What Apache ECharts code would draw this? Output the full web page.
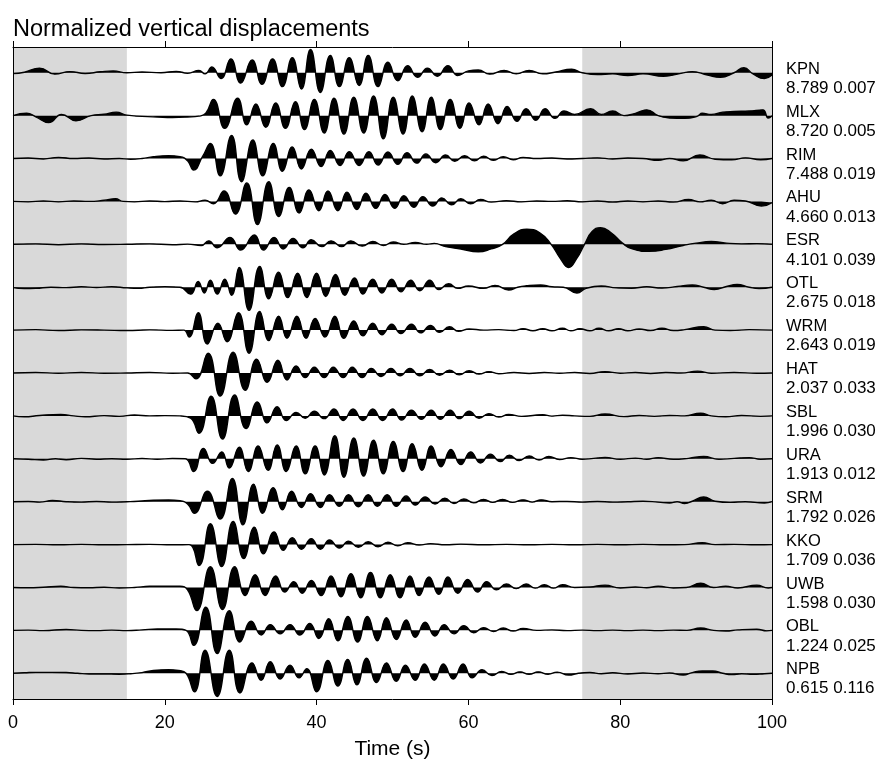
<!DOCTYPE html>
<html><head><meta charset="utf-8">
<script src="https://cdn.jsdelivr.net/npm/echarts@6/dist/echarts.min.js"></script>
<style>html,body{margin:0;padding:0;background:#fff}#c{width:881px;height:765px}</style>
</head><body><div id="c"></div>
<script>
const stations = ['KPN','MLX','RIM','AHU','ESR','OTL','WRM','HAT','SBL','URA','SRM','KKO','UWB','OBL','NPB'];
const distances = ['8.789','8.720','7.488','4.660','4.101','2.675','2.643','2.037','1.996','1.913','1.792','1.709','1.598','1.224','0.615'];
const maxAmps = ['0.007','0.005','0.019','0.013','0.039','0.018','0.019','0.033','0.030','0.012','0.026','0.036','0.030','0.025','0.116'];
const xTicks = [0,20,40,60,80,100];
const shadedWindows = [[0,15],[75,100]];

const KPN = [[0,-0.04],[1.5,0.02],[3.5,0.2],[5.5,-0.06],[7.5,0.05],[9.5,-0.03],[11.5,0.04],[13.2,0.08],[15,0.0],[17,0.03],[19.5,0.0],[21.5,0.06],[23,-0.02],[24.5,0.1],[25.3,-0.05],[26.2,0.25],[27.4,-0.25],[28.7,0.6],[30.0,-0.45],[31.5,0.55],[32.8,-0.5],[34.2,0.6],[35.5,-0.6],[36.8,0.65],[38.0,-0.7],[39.2,1.0],[40.5,-0.85],[41.8,0.75],[43.0,-0.6],[44.3,0.65],[45.6,-0.55],[46.8,0.75],[48.1,-0.6],[49.4,0.45],[50.7,-0.35],[52.0,0.3],[53.3,-0.2],[54.6,0.2],[55.9,-0.15],[57.3,0.3],[58.6,-0.12],[60.0,0.08],[61.3,0.12],[62.8,-0.06],[64.7,0.1],[66.3,-0.05],[68.0,0.1],[69.8,-0.05],[71.5,0.03],[73.6,0.15],[75,0.0],[77,-0.08],[79,-0.05],[81,-0.12],[83,-0.05],[85.7,-0.15],[88,-0.03],[89.5,0.05],[91.5,-0.1],[93.2,-0.2],[95,0.0],[96.3,0.22],[97.5,-0.05],[99,-0.25],[100,-0.1]];
const MLX = [[0,0],[1.8,0.1],[3,-0.05],[4.7,-0.3],[6.4,0.05],[8.3,-0.22],[10.3,0.0],[12,0.06],[13.6,0.15],[15,0.02],[17,-0.03],[19,-0.06],[21,-0.08],[23,-0.06],[24.5,-0.02],[25.4,0.1],[26.4,0.7],[27.9,-0.55],[29.6,0.75],[30.8,-0.4],[32.0,0.5],[33.3,-0.5],[34.6,0.55],[35.9,-0.55],[37.2,0.6],[38.4,-0.6],[39.7,0.7],[41.0,-0.75],[42.3,0.75],[43.6,-0.8],[44.9,0.8],[46.2,-0.75],[47.5,0.85],[48.8,-1.0],[50.1,0.8],[51.4,-0.8],[52.6,0.85],[53.9,-0.7],[55.1,0.8],[56.3,-0.6],[57.6,0.7],[58.9,-0.55],[60.1,0.55],[61.4,-0.4],[62.6,0.5],[63.9,-0.35],[65.1,0.4],[66.4,-0.25],[67.6,0.3],[68.9,-0.2],[70.1,0.3],[71.4,-0.12],[72.6,0.2],[74,0.05],[76.1,0.3],[77.5,0.05],[79,0.2],[80.5,0.0],[82,0.1],[83.5,0.25],[85,0.0],[86.5,-0.1],[88.5,-0.12],[90.2,-0.02],[90.8,0.1],[92,0.05],[93.5,0.15],[95,0.18],[97,0.2],[98.8,0.25],[99.5,-0.1],[100,0]];
const RIM = [[0,0],[2,0.02],[4,-0.02],[6,0.05],[8,0.0],[10,0.02],[12,-0.02],[14,0.0],[15.5,-0.03],[17,0.0],[18.5,0.08],[20.5,0.12],[22,0.08],[23.0,-0.1],[23.8,-0.5],[25.0,0.1],[26.0,0.65],[27.3,-0.75],[28.8,1.0],[30.1,-1.0],[31.6,0.8],[32.9,-0.75],[34.3,0.65],[35.5,-0.55],[36.8,0.5],[38.0,-0.45],[39.3,0.4],[40.6,-0.35],[41.8,0.35],[43.1,-0.3],[44.3,0.3],[45.6,-0.3],[46.9,0.3],[48.1,-0.28],[49.4,0.28],[50.7,-0.25],[51.9,0.25],[53.2,-0.2],[54.4,0.2],[55.7,-0.18],[57.0,0.15],[58.2,-0.12],[59.5,0.12],[60.8,-0.1],[62.0,0.1],[63.3,-0.08],[64.6,0.08],[65.9,-0.05],[67.2,0.05],[69,0.0],[71,0.02],[73,-0.02],[75,0.0],[77,0.03],[79,-0.02],[81,0.02],[83,0.0],[85,-0.08],[86.5,0.0],[88.3,-0.1],[90.5,0.15],[92.5,-0.03],[94.7,-0.06],[96.5,0.03],[98.5,-0.05],[100,0]];
const AHU = [[0,0],[2,-0.02],[4,0.02],[6,-0.02],[8,0.02],[10,0.0],[12,0.05],[13.5,0.12],[14.5,0.0],[16,-0.02],[18,0.02],[20,-0.01],[22,0.02],[24,-0.02],[25.3,0.05],[26.4,-0.1],[27.8,0.45],[29.3,-0.55],[30.8,0.8],[32.2,-1.0],[33.7,0.85],[35.0,-0.65],[36.4,0.6],[37.7,-0.5],[39.0,0.5],[40.3,-0.4],[41.5,0.45],[42.8,-0.4],[44.0,0.4],[45.3,-0.35],[46.5,0.35],[47.8,-0.3],[49.0,0.3],[50.3,-0.3],[51.5,0.25],[52.8,-0.25],[54.0,0.2],[55.3,-0.2],[56.5,0.15],[57.8,-0.15],[59.0,0.12],[60.3,-0.1],[61.6,0.08],[63,-0.03],[65,0.03],[67,-0.02],[69,0.02],[71,0.0],[73,0.03],[75,-0.02],[77,0.02],[79,-0.03],[81,0.02],[83,-0.02],[85,0.02],[87,-0.03],[89,0.08],[90.5,-0.02],[92,0.05],[93.5,-0.1],[95,0.05],[96.5,0.02],[98.6,-0.2],[100,-0.05]];
const ESR = [[0,0],[3,0.02],[6,-0.02],[9,0.02],[12,-0.01],[15,0.0],[18,0.02],[21,-0.02],[23,0.01],[24.8,-0.05],[25.8,0.15],[26.9,-0.15],[28.6,0.3],[30.0,-0.25],[31.8,0.4],[33.0,-0.25],[34.4,0.3],[35.6,-0.2],[36.9,0.25],[38.2,-0.15],[39.3,0.2],[40.7,-0.1],[41.9,0.15],[43.3,-0.1],[44.5,0.15],[46.0,-0.08],[47.4,0.12],[48.8,-0.05],[50.1,0.1],[51.5,0.0],[53.0,0.08],[54.5,0.0],[55.5,0.04],[57,-0.1],[59,-0.2],[61.3,-0.32],[63,-0.2],[64.5,0.0],[66,0.45],[67.7,0.65],[69.4,0.5],[70.9,0.0],[72.1,-0.6],[73.2,-1.0],[74.3,-0.6],[75.3,0.0],[76.3,0.55],[77.4,0.72],[78.8,0.5],[80.3,0.05],[81.6,-0.2],[83.8,-0.3],[86,-0.22],[88.3,-0.05],[90,0.05],[92,0.12],[94,0.05],[96,0.02],[98,0.03],[100,0]];
const OTL = [[0,-0.02],[1.5,-0.06],[3,-0.05],[5,0.0],[7,-0.02],[9,0.02],[11,-0.01],[13,0.02],[15,-0.03],[16.5,-0.05],[18,0.0],[20,0.02],[22,0.0],[23.4,-0.3],[24.4,0.25],[25.2,-0.25],[26.0,0.3],[26.9,-0.3],[27.9,0.35],[28.8,-0.35],[29.8,0.85],[31.1,-1.0],[32.5,0.9],[33.7,-0.5],[35.0,0.65],[36.2,-0.45],[37.5,0.6],[38.7,-0.45],[40.0,0.6],[41.2,-0.4],[42.5,0.55],[43.7,-0.35],[45.0,0.4],[46.1,-0.3],[47.4,0.35],[48.6,-0.25],[49.9,0.35],[51.1,-0.2],[52.4,0.3],[53.6,-0.15],[54.9,0.3],[56.1,-0.1],[57.4,0.15],[58.6,-0.05],[60.0,0.05],[62,-0.05],[63.5,0.08],[65.3,-0.12],[66.5,0.0],[67.6,0.06],[69.5,0.1],[71,0.02],[72.5,0.0],[74.3,-0.25],[75.5,-0.05],[77.5,0.05],[79.5,-0.03],[81.5,-0.05],[83.5,0.02],[85.5,-0.04],[87.5,0.03],[89.5,0.1],[91,0.0],[92.4,-0.1],[94,0.03],[95.4,0.12],[97,0.0],[98.3,-0.06],[100,0]];
const WRM = [[0,0],[3,0.02],[6,-0.02],[9,0.01],[12,0.0],[15,-0.02],[18,0.01],[21,-0.01],[22.5,0.0],[23.2,-0.3],[24.4,0.75],[25.6,-0.6],[27.0,0.3],[28.2,-0.5],[29.7,0.75],[31.1,-1.0],[32.5,0.8],[33.7,-0.45],[35.0,0.6],[36.1,-0.35],[37.4,0.6],[38.6,-0.35],[39.8,0.5],[41.1,-0.3],[42.4,0.6],[43.6,-0.35],[44.9,0.4],[46.1,-0.25],[47.4,0.3],[48.6,-0.2],[49.9,0.25],[51.1,-0.15],[52.5,0.25],[53.7,-0.12],[55.0,0.2],[56.2,-0.1],[57.5,0.15],[58.7,-0.05],[60.1,0.05],[62,0.0],[64,0.02],[66,-0.02],[67.2,0.06],[68.5,-0.03],[69.8,0.06],[71,-0.03],[72.4,0.08],[73.5,-0.03],[74.7,0.06],[76,-0.03],[77.2,0.08],[78.5,-0.03],[79.8,0.06],[81,-0.03],[82.5,0.05],[84,-0.02],[85.5,0.08],[87,-0.02],[88.5,0.02],[91,0.15],[92.5,0.0],[94.5,-0.02],[97,0.02],[100,0]];
const HAT = [[0,0],[3,0.02],[6,-0.01],[9,0.02],[12,-0.01],[15,0.0],[18,0.02],[21,-0.01],[23,0.0],[24.1,-0.25],[25.7,0.85],[27.3,-1.0],[29.0,0.9],[30.6,-0.75],[32.1,0.6],[33.5,-0.4],[34.9,0.55],[36.1,-0.3],[37.3,0.3],[38.5,-0.2],[39.7,0.25],[41.0,-0.2],[42.2,0.25],[43.5,-0.2],[44.7,0.25],[46.0,-0.2],[47.2,0.2],[48.5,-0.15],[49.8,0.2],[51.0,-0.12],[52.3,0.2],[53.6,-0.12],[54.9,0.15],[56.2,-0.1],[57.5,0.12],[58.8,-0.08],[60.1,0.1],[61.4,-0.05],[62.7,0.06],[64,-0.03],[66,0.02],[68,-0.02],[70,0.02],[72,-0.01],[74,0.02],[76,-0.02],[78,0.06],[80,-0.01],[82,0.02],[84,-0.02],[86,0.02],[88,0.0],[90.2,0.08],[92,-0.01],[95,0.02],[98,-0.01],[100,0]];
const SBL = [[0,0],[1.5,-0.04],[3.5,0.02],[6.3,0.06],[8,0.0],[9.5,-0.04],[12,0.01],[14,-0.02],[16,0.04],[18,0.0],[20,0.01],[22,0.0],[23.4,-0.1],[24.5,-0.75],[26.1,0.85],[27.6,-1.0],[29.2,0.9],[30.7,-0.55],[32.2,0.6],[33.5,-0.3],[34.8,0.4],[36.0,-0.2],[37.3,0.15],[38.5,-0.1],[39.7,0.2],[41.0,-0.12],[42.3,0.3],[43.5,-0.2],[44.8,0.3],[46.1,-0.2],[47.4,0.3],[48.7,-0.2],[50.0,0.3],[51.2,-0.18],[52.5,0.25],[53.8,-0.15],[55.1,0.25],[56.3,-0.15],[57.6,0.25],[58.8,-0.12],[60.1,0.2],[61.4,-0.1],[62.7,0.1],[64,-0.05],[65.3,0.06],[67,-0.02],[68.5,0.02],[69.8,0.05],[71,-0.01],[72.4,0.03],[74,0.0],[76,-0.02],[78,0.08],[80.5,-0.03],[82.5,0.02],[84.5,-0.02],[86.5,0.02],[88.5,0.0],[90.6,0.12],[92,0.0],[93.9,-0.04],[96,0.02],[98.5,-0.02],[100,0]];
const URA = [[0,0],[2,-0.02],[4,-0.05],[5.6,0.0],[7,-0.04],[9,0.02],[11,-0.02],[13,0.0],[15,-0.02],[17,0.01],[19,-0.02],[21,0.01],[22.7,0.0],[23.8,-0.55],[25.1,0.45],[26.3,-0.2],[27.5,0.3],[28.5,-0.4],[29.8,0.5],[31.0,-0.55],[32.3,0.55],[33.6,-0.5],[34.8,0.6],[36.0,-0.55],[37.3,0.55],[38.5,-0.65],[39.8,0.55],[41.0,-0.7],[42.4,1.0],[43.6,-0.8],[44.9,0.9],[46.2,-0.75],[47.5,0.8],[48.8,-0.65],[50.1,0.75],[51.4,-0.55],[52.6,0.65],[53.9,-0.5],[55.1,0.55],[56.4,-0.35],[57.7,0.4],[59.0,-0.25],[60.3,0.3],[61.6,-0.18],[62.9,0.2],[64.2,-0.12],[65.4,0.15],[66.7,-0.08],[68.0,0.12],[69.3,-0.05],[70.6,0.1],[72,-0.03],[73.5,0.05],[75,-0.02],[76.5,0.02],[78,0.06],[80,-0.02],[82,0.03],[83.5,-0.02],[85,0.05],[87,-0.02],[89,0.02],[91,0.1],[93,-0.02],[95,0.02],[97,0.05],[98.5,-0.02],[100,0]];
const SRM = [[0,0],[2,0.01],[3.5,-0.02],[5.2,0.05],[7,0.0],[9,-0.02],[11,0.01],[13,-0.02],[15,0.0],[16.5,0.02],[18.5,0.06],[20.5,0.07],[22,0.04],[23.0,-0.1],[23.9,-0.5],[25.6,0.45],[27.3,-0.75],[28.9,1.0],[30.3,-1.0],[31.7,0.75],[32.9,-0.5],[34.3,0.6],[35.5,-0.35],[36.7,0.45],[38.0,-0.25],[39.2,0.35],[40.5,-0.25],[41.7,0.3],[43.0,-0.2],[44.2,0.3],[45.5,-0.22],[46.8,0.3],[48.0,-0.2],[49.3,0.3],[50.5,-0.2],[51.8,0.25],[53.0,-0.15],[54.3,0.2],[55.6,-0.1],[56.9,0.15],[58.1,-0.08],[59.4,0.12],[60.7,-0.05],[62.0,0.1],[63.2,-0.03],[64.5,0.1],[65.8,-0.03],[67.2,0.08],[68.4,-0.02],[69.6,0.08],[71,0.0],[73,0.01],[75,-0.02],[77,0.01],[79,-0.02],[81,0.0],[83,0.02],[85,-0.02],[86.5,-0.06],[87.5,0.0],[88.5,-0.08],[89.5,0.02],[91,0.2],[92.5,0.02],[94.5,-0.03],[96.5,0.0],[99,-0.06],[100,0]];
const KKO = [[0,0],[3,0.01],[6,-0.01],[9,0.01],[12,-0.01],[15,0.0],[18,0.01],[21,-0.01],[23.2,0.0],[24.5,-0.9],[26.0,0.9],[27.5,-0.95],[29.0,1.0],[30.4,-0.6],[31.8,0.75],[33.0,-0.4],[34.4,0.55],[35.6,-0.25],[36.8,0.3],[38.0,-0.2],[39.3,0.25],[40.5,-0.2],[41.7,0.2],[43.0,-0.15],[44.2,0.15],[45.5,-0.12],[46.8,0.12],[48.1,-0.1],[49.4,0.1],[50.7,-0.05],[52.0,0.08],[53.5,-0.02],[55,0.04],[57,-0.01],[59,0.02],[62,-0.01],[65,0.01],[68,-0.01],[71,0.01],[74,-0.01],[77,0.01],[80,-0.01],[83,0.01],[86,-0.01],[88.5,0.0],[90.8,0.08],[92.5,0.0],[95,0.01],[98,-0.01],[100,0]];
const UWB = [[0,0],[2,-0.01],[4,0.01],[6.3,0.05],[8,0.0],[10,-0.01],[12,0.01],[14,-0.02],[16,0.0],[18,0.05],[20.5,0.06],[22,0.05],[23.0,-0.1],[24.2,-1.0],[26.0,0.9],[27.6,-0.95],[29.2,0.9],[30.6,-0.35],[31.9,0.55],[33.2,-0.35],[34.6,0.5],[35.8,-0.2],[37.0,0.25],[38.1,-0.25],[39.3,0.3],[40.6,-0.35],[41.9,0.5],[43.2,-0.4],[44.5,0.6],[45.8,-0.45],[47.1,0.65],[48.4,-0.45],[49.7,0.55],[51.0,-0.45],[52.3,0.5],[53.5,-0.35],[54.8,0.45],[56.1,-0.3],[57.3,0.45],[58.6,-0.25],[59.9,0.35],[61.2,-0.2],[62.4,0.25],[63.7,-0.1],[65.0,0.15],[66.3,-0.05],[67.6,0.15],[68.8,-0.03],[70.0,0.12],[71.2,-0.03],[72.4,0.12],[74,0.0],[76,0.02],[78,0.1],[80,-0.02],[82,0.02],[83.5,-0.01],[85,0.05],[87,-0.02],[88.7,0.0],[90.6,0.18],[92.3,0.0],[93.9,0.05],[95.5,-0.02],[98,0.1],[99.5,-0.02],[100,0]];
const OBL = [[0,0],[2,0.01],[4,-0.01],[7,0.04],[9,0.0],[11,-0.01],[13,0.01],[15,-0.01],[17,0.02],[19,0.06],[21.5,0.06],[22.8,0.0],[23.8,-0.65],[25.4,1.0],[26.9,-1.0],[28.5,0.85],[29.9,-0.5],[31.4,0.4],[32.7,-0.2],[33.9,0.25],[35.2,-0.15],[36.5,0.25],[37.8,-0.2],[39.1,0.3],[40.3,-0.35],[41.6,0.5],[42.8,-0.45],[44.1,0.6],[45.4,-0.5],[46.7,0.6],[48.0,-0.45],[49.2,0.55],[50.5,-0.4],[51.8,0.45],[53.0,-0.3],[54.3,0.35],[55.6,-0.25],[56.8,0.25],[58.1,-0.15],[59.4,0.2],[60.7,-0.1],[62.0,0.12],[63.3,-0.05],[64.6,0.1],[65.9,-0.03],[67.2,0.08],[69,0.0],[71,0.02],[73,-0.01],[75,0.01],[77,-0.01],[79,0.01],[81,-0.01],[83,0.01],[85,-0.01],[87,0.01],[88.8,0.0],[90.6,0.1],[92.3,0.0],[93.9,-0.03],[95.5,0.02],[98,0.05],[99.3,-0.02],[100,0]];
const NPB = [[0,0],[1.5,0.02],[3,0.04],[5,0.04],[7,0.03],[8.5,0.0],[10,-0.03],[12,-0.03],[14,-0.04],[15.5,-0.02],[17,0.03],[18.5,0.12],[20.5,0.15],[21.8,0.12],[22.8,0.0],[23.9,-0.8],[25.3,1.0],[26.9,-1.0],[28.5,1.0],[29.9,-0.85],[31.5,0.45],[32.7,-0.3],[33.9,0.5],[35.2,-0.25],[36.5,0.35],[37.7,-0.2],[38.7,0.2],[40.0,-0.8],[41.5,0.55],[42.8,-0.55],[44.1,0.6],[45.3,-0.5],[46.6,0.65],[47.9,-0.4],[49.2,0.45],[50.5,-0.35],[51.7,0.35],[53.0,-0.3],[54.2,0.4],[55.5,-0.3],[56.7,0.4],[58.0,-0.25],[59.3,0.4],[60.5,-0.2],[61.8,0.15],[63.1,-0.1],[64.4,0.08],[65.6,-0.05],[66.8,0.06],[68.0,-0.04],[69.2,0.06],[70.5,-0.04],[71.7,0.05],[73.2,-0.08],[74.5,0.0],[76,0.03],[77.5,-0.02],[79,0.02],[81,-0.03],[83,0.01],[85,-0.02],[86.5,0.01],[88.3,-0.08],[89.5,0.03],[90.8,0.1],[92.2,0.1],[93.5,0.0],[94.7,-0.06],[96,-0.02],[97.5,-0.05],[99,-0.02],[100,0]];

const traces = [KPN,MLX,RIM,AHU,ESR,OTL,WRM,HAT,SBL,URA,SRM,KKO,UWB,OBL,NPB];

const AMP = 0.54;
const N = stations.length;
const chart = echarts.init(document.getElementById('c'), null, {renderer:'canvas'});
const FONT = 'Liberation Sans, Arial, Helvetica, sans-serif';

const series = [{
  type:'line', data:[[0,0]], symbol:'none', z:0, silent:true,
  lineStyle:{opacity:0},
  markArea:{silent:true, itemStyle:{color:'#d9d9d9'},
    data: shadedWindows.map(w => [{xAxis:w[0]},{xAxis:w[1]}])}
}];
traces.forEach((tr,i) => {
  const off = N-1-i;
  series.push({
    name: stations[i], type:'line', smooth:0.5, symbol:'none', z:5, silent:true,
    data: tr.map(p => [p[0], off + p[1]*AMP]),
    lineStyle:{color:'#000', width:1.4},
    areaStyle:{color:'#000', opacity:1, origin: off}
  });
});

const labelValues = stations.map((s,i)=>N-1-i);

chart.setOption({
  animation:false,
  backgroundColor:'#fff',
  title:{text:'Normalized vertical displacements', left:8, top:13,
    textStyle:{fontFamily:FONT, fontSize:23.5, fontWeight:'normal', color:'#000'}},
  grid:{left:13, right:109, top:47, bottom:65, containLabel:false},
  xAxis:[{
    type:'value', min:0, max:100, interval:20, position:'bottom', z:10,
    name:'Time (s)', nameLocation:'middle', nameGap:40,
    nameTextStyle:{fontFamily:FONT, fontSize:21, color:'#000'},
    axisLine:{show:true, onZero:false, lineStyle:{color:'#000', width:1}},
    axisTick:{show:true, inside:false, length:6, lineStyle:{color:'#000'}},
    axisLabel:{fontFamily:FONT, fontSize:18, color:'#000', margin:15, showMinLabel:true, showMaxLabel:true},
    splitLine:{show:false}
  },{
    type:'value', min:0, max:100, interval:20, position:'top', z:10,
    axisLine:{show:true, onZero:false, lineStyle:{color:'#000', width:1}},
    axisTick:{show:true, inside:false, length:6, lineStyle:{color:'#000'}},
    axisLabel:{show:false}, splitLine:{show:false}
  }],
  yAxis:[{
    type:'value', min:-0.6, max:14.6, position:'left', z:10,
    axisLine:{show:true, onZero:false, lineStyle:{color:'#000', width:1}},
    axisTick:{show:false}, axisLabel:{show:false}, splitLine:{show:false}
  },{
    type:'value', min:-0.6, max:14.6, position:'right', z:10,
    axisLine:{show:true, onZero:false, lineStyle:{color:'#000', width:1}},
    axisTick:{show:false}, splitLine:{show:false},
    axisLabel:{show:true, customValues:labelValues, margin:14, align:'left', padding:[12,0,0,0],
      formatter: v => { const i = N-1-Math.round(v); return '{n|'+stations[i]+'}\n{v|'+distances[i]+' '+maxAmps[i]+'}'; },
      rich:{n:{fontFamily:FONT, fontSize:16.5, color:'#000', lineHeight:19},
            v:{fontFamily:FONT, fontSize:17, color:'#000', lineHeight:19}}}
  }],
  series: series
});
</script></body></html>
